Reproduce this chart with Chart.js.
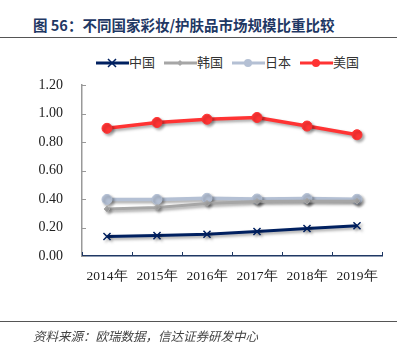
<!DOCTYPE html>
<html>
<head>
<meta charset="utf-8">
<script src="https://cdn.jsdelivr.net/npm/chart.js@4"></script>
<style>
  body { margin: 0; background: #fff; }
  #wrap { position: relative; width: 405px; height: 351px; overflow: hidden; }
  #c { position: absolute; left: 0; top: 0; }
  .title { position: absolute; left: 33px; top: 14px; font: bold 14.5px "Noto Sans CJK SC"; color: #1f3864; white-space: nowrap; }
  .rule { position: absolute; left: 0; width: 397px; height: 1px; background: #555; }
  .src { position: absolute; left: 33px; top: 326px; font: italic 12.5px "Noto Sans CJK SC"; color: #444; white-space: nowrap; }
  .legend { position: absolute; top: 50px; left: 96px; font: 13px "Noto Sans CJK SC"; color: #333; white-space: nowrap; }
  .legend span.item { display: inline-block; margin-right: 9px; vertical-align: middle; }
  .legend svg { vertical-align: middle; }
</style>
</head>
<body>
<div id="wrap">
  <div class="title">图 56：不同国家彩妆/护肤品市场规模比重比较</div>
  <div class="rule" style="top:37px"></div>
  <div class="legend" id="legend"></div>
  <canvas id="c" width="405" height="351"></canvas>
  <div class="rule" style="top:321px"></div>
  <div class="src">资料来源：欧瑞数据，信达证券研发中心</div>
</div>
<script>
var years = ['2014年', '2015年', '2016年', '2017年', '2018年', '2019年'];
var china = [0.137, 0.143, 0.153, 0.172, 0.193, 0.212];
var korea = [0.330, 0.341, 0.369, 0.383, 0.385, 0.385];
var japan = [0.397, 0.397, 0.405, 0.400, 0.403, 0.398];
var usa = [0.896, 0.937, 0.960, 0.972, 0.912, 0.851];
var yTicks = [0, 0.2, 0.4, 0.6, 0.8, 1.0, 1.2];

var series = [
    { label: '中国', data: china, color: '#002060', point: 'crossRot', radius: 5, width: 3 },
    { label: '韩国', data: korea, color: '#a6a6a6', point: 'rectRot', radius: 3, width: 3 },
    { label: '日本', data: japan, color: '#b4c0d4', point: 'circle', radius: 5, width: 3.5 },
    { label: '美国', data: usa, color: '#ff3333', point: 'circle', radius: 5, width: 3.5 }
];

// legend in html, line + marker
var lg = document.getElementById('legend');
series.forEach(function (s) {
    var mark;
    if (s.point === 'crossRot') {
        mark = '<path d="M12 4 L20 12 M20 4 L12 12" stroke="' + s.color + '" stroke-width="1.5"/>';
    } else if (s.point === 'rectRot') {
        mark = '<path d="M16 5 L19 8 L16 11 L13 8 Z" fill="' + s.color + '"/>';
    } else {
        mark = '<circle cx="16" cy="8" r="4" fill="' + s.color + '"/>';
    }
    lg.innerHTML += '<span class="item"><svg width="33" height="16"><line x1="0" y1="8" x2="33" y2="8" stroke="' +
        s.color + '" stroke-width="3"/>' + mark + '</svg>' + s.label + '</span>';
});

// drop shadow under the lines + inner tick marks
var shadowPlugin = {
    id: 'shadow',
    beforeDatasetsDraw: function (chart) {
        var c = chart.ctx;
        c.save();
        c.shadowColor = 'rgba(0,0,0,0.35)';
        c.shadowBlur = 3;
        c.shadowOffsetX = 2;
        c.shadowOffsetY = 2;
    },
    afterDatasetsDraw: function (chart) {
        chart.ctx.restore();
    },
    afterDraw: function (chart) {
        var c = chart.ctx, x = chart.scales.x, y = chart.scales.y;
        var area = chart.chartArea;
        c.save();
        c.lineWidth = 1;
        c.strokeStyle = '#999';
        y.ticks.forEach(function (t) {
            var py = Math.round(y.getPixelForValue(t.value)) + 0.5;
            c.beginPath(); c.moveTo(area.left, py); c.lineTo(area.left + 4, py); c.stroke();
        });
        c.strokeStyle = '#1f3864';
        for (var i = 0; i <= years.length; i++) {
            var px = Math.round(x.getPixelForValue(i - 0.5)) + 0.5;
            c.beginPath(); c.moveTo(px, area.bottom); c.lineTo(px, area.bottom - 4); c.stroke();
        }
        c.restore();
    }
};

new Chart(document.getElementById('c'), {
    type: 'line',
    data: {
        labels: years,
        datasets: series.map(function (s) {
            return {
                label: s.label,
                data: s.data,
                borderColor: s.color,
                backgroundColor: s.color,
                borderWidth: s.width,
                pointStyle: s.point,
                pointRadius: s.radius,
                pointBorderWidth: s.point === 'crossRot' ? 1.5 : 1,
                pointBorderColor: s.color,
                tension: 0
            };
        })
    },
    options: {
        responsive: false,
        animation: false,
        layout: { padding: { left: 0, right: 23, top: 85, bottom: 65 } },
        plugins: { legend: { display: false }, tooltip: { enabled: false } },
        scales: {
            x: {
                offset: true,
                grid: { display: false, drawTicks: false },
                border: { display: true, color: '#1f3864', width: 1.5 },
                ticks: { padding: 12, color: '#222', font: { family: 'Liberation Serif', size: 13.5 }, maxRotation: 0 },
                afterFit: function (s) { s.height = 30; }
            },
            y: {
                min: 0,
                max: 1.2,
                afterBuildTicks: function (s) {
                    s.ticks = yTicks.map(function (v) { return { value: v }; });
                },
                grid: { display: false, drawTicks: false },
                border: { display: true, color: '#999', width: 1.5 },
                ticks: {
                    padding: 19,
                    color: '#222',
                    font: { family: 'Liberation Serif', size: 14 },
                    callback: function (v) { return v.toFixed(2); }
                },
                afterFit: function (s) { s.width = 82; }
            }
        }
    },
    plugins: [shadowPlugin]
});
</script>
</body>
</html>
